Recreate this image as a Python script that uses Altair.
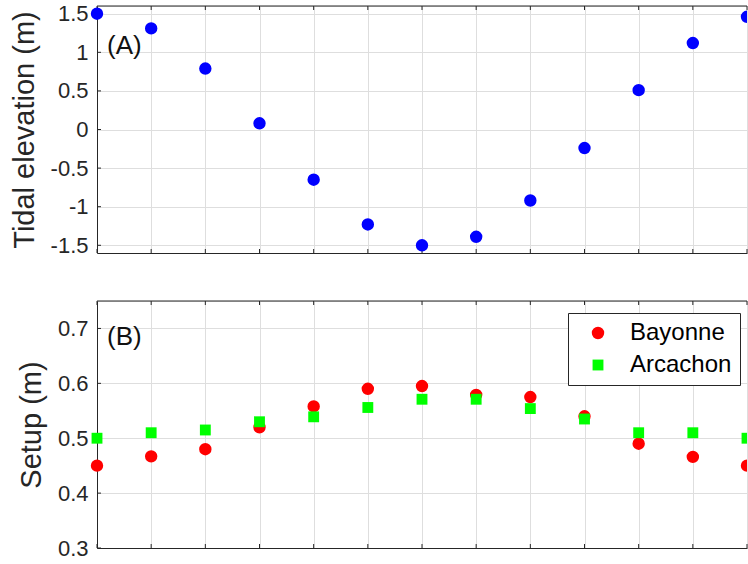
import altair as alt
import pandas as pd

# ---- data ----
steps = list(range(13))
tide = [1.50, 1.31, 0.79, 0.08, -0.65, -1.23, -1.50, -1.39, -0.92, -0.24, 0.51, 1.12, 1.46]
bayonne = [0.450, 0.467, 0.480, 0.520, 0.558, 0.590, 0.595, 0.579, 0.575, 0.540, 0.490, 0.466, 0.450]
arcachon = [0.500, 0.510, 0.515, 0.530, 0.539, 0.556, 0.571, 0.571, 0.554, 0.535, 0.510, 0.510, 0.500]
series_names = ["Bayonne", "Arcachon"]
series_colors = ["#ff0000", "#00ff00"]
series_shapes = ["circle", "square"]
series_sizes = [154, 118]
tide_ticks = [-1.5, -1, -0.5, 0, 0.5, 1, 1.5]
setup_ticks = [0.3, 0.4, 0.5, 0.6, 0.7]
panel_labels = ["(A)", "(B)"]

FONT = "Liberation Sans"
DARK = "#262626"
GRID = "#dedede"
W = 650
H = 247
LAST = steps[-1]

tide_df = pd.DataFrame({"step": steps, "tide": tide})
setup_df = pd.DataFrame({
    "step": steps + steps,
    "setup": bayonne + arcachon,
    "series": [series_names[0]] * len(steps) + [series_names[1]] * len(steps),
})
xtick_df = pd.DataFrame({"step": steps})

x_scale = alt.Scale(domain=[0, 12], nice=False, zero=False)
x_axis = alt.Axis(values=steps, labels=False, ticks=False, domain=True, domainColor=DARK,
                  title=None, grid=True, gridColor=GRID, gridWidth=1)


def y_axis(values, title):
    return alt.Axis(values=values, title=title, grid=True, gridColor=GRID, gridWidth=1,
                    labelExpr="datum.value + ''", labelFontSize=22, labelFont=FONT,
                    labelColor=DARK, labelPadding=9, ticks=False, domainColor=DARK,
                    titleFontSize=29, titleFont=FONT, titleFontWeight="normal",
                    titleColor=DARK, titlePadding=11)


def frame_layers(field, yscale, yaxis, yticks_vals):
    xenc = alt.X("step:Q", scale=x_scale, axis=x_axis)
    top = alt.Chart(xtick_df).mark_rule(color=DARK, strokeWidth=1).encode(
        x=xenc, y=alt.value(0), y2=alt.value(4))
    bot = alt.Chart(xtick_df).mark_rule(color=DARK, strokeWidth=1).encode(
        x=xenc, y=alt.value(H - 4), y2=alt.value(H))
    left = alt.Chart(pd.DataFrame({field: yticks_vals})).mark_rule(color=DARK, strokeWidth=1).encode(
        y=alt.Y(f"{field}:Q", scale=yscale, axis=yaxis),
        x=alt.value(0), x2=alt.value(4))
    border = alt.Chart(pd.DataFrame({"b": [0]})).mark_rule(color=DARK, strokeWidth=1).encode(
        x=alt.value(0), x2=alt.value(W), y=alt.value(0))
    return [top, bot, left, border]


tide_scale = alt.Scale(domain=[-1.6, 1.6], nice=False, zero=False)
setup_scale = alt.Scale(domain=[0.3, 0.75], nice=False, zero=False)
tide_axis = y_axis(tide_ticks, "Tidal elevation (m)")
setup_axis = y_axis(setup_ticks, "Setup (m)")


def tide_points(clip, cond):
    return alt.Chart(tide_df).mark_point(filled=True, opacity=1, size=154,
                                         color="#0000ff", clip=clip).encode(
        x=alt.X("step:Q", scale=x_scale, axis=x_axis),
        y=alt.Y("tide:Q", scale=tide_scale, axis=tide_axis),
    ).transform_filter(cond)


top_label = alt.Chart(pd.DataFrame({"t": [panel_labels[0]]})).mark_text(
    align="left", baseline="middle", fontSize=26, font=FONT, color="#111111").encode(
    x=alt.value(10), y=alt.value(40), text="t:N")

top = alt.layer(*frame_layers("tide", tide_scale, tide_axis, tide_ticks),
                tide_points(False, f"datum.step < {LAST}"),
                tide_points(True, f"datum.step >= {LAST}"),
                top_label).properties(width=W, height=H)

leg = alt.Legend(title=None, orient="none", legendX=471, legendY=307, labelFontSize=24,
                 labelFont=FONT, labelColor="black", strokeColor=DARK, fillColor="white",
                 padding=8, symbolOffset=10, labelOffset=20, rowPadding=8, symbolStrokeWidth=0)


def setup_points(clip, cond):
    return alt.Chart(setup_df).mark_point(filled=True, opacity=1, clip=clip).encode(
        x=alt.X("step:Q", scale=x_scale, axis=x_axis),
        y=alt.Y("setup:Q", scale=setup_scale, axis=setup_axis),
        color=alt.Color("series:N", scale=alt.Scale(domain=series_names, range=series_colors), legend=leg),
        shape=alt.Shape("series:N", scale=alt.Scale(domain=series_names, range=series_shapes), legend=leg),
        size=alt.Size("series:N", scale=alt.Scale(domain=series_names, range=series_sizes), legend=leg),
        order=alt.Order("order:Q"),
    ).transform_calculate(order="datum.series == 'Bayonne' ? 0 : 1").transform_filter(cond)


bot_label = alt.Chart(pd.DataFrame({"t": [panel_labels[1]]})).mark_text(
    align="left", baseline="middle", fontSize=26, font=FONT, color="#111111").encode(
    x=alt.value(10), y=alt.value(36), text="t:N")

bottom = alt.layer(*frame_layers("setup", setup_scale, setup_axis, setup_ticks),
                   setup_points(False, f"datum.step < {LAST}"),
                   setup_points(True, f"datum.step >= {LAST}"),
                   bot_label).properties(width=W, height=H)

chart = alt.vconcat(top, bottom, spacing=43).properties(
    padding={"left": 9, "top": 2, "right": 0, "bottom": 0}
).configure_view(strokeWidth=0).configure(font=FONT)

chart.save("out.html", embed_options={"renderer": "svg", "actions": False})
